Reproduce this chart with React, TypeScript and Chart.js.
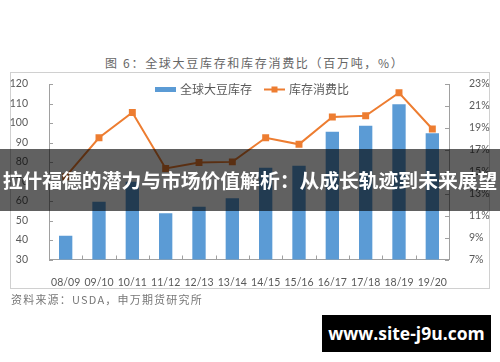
import React, { useEffect, useRef } from "react";
import { Chart, registerables } from "chart.js";

Chart.register(...registerables);

const categories = ["08/09", "09/10", "10/11", "11/12", "12/13", "13/14", "14/15", "15/16", "16/17", "17/18", "18/19", "19/20"];
const stocks = [42.2, 59.6, 69.9, 53.7, 57.1, 61.4, 77.1, 78.1, 95.5, 98.6, 109.6, 94.7];
const ratio = [14.55, 18.1, 20.4, 15.3, 15.85, 15.9, 18.1, 17.5, 20.0, 20.1, 22.2, 18.9];
const barLabel = "全球大豆库存";
const lineLabel = "库存消费比";
const titleText = "图 6：全球大豆库存和库存消费比（百万吨，%）";
const sourceText = "资料来源：USDA，申万期货研究所";
const bannerText = "拉什福德的潜力与市场价值解析：从成长轨迹到未来展望";
const watermarkText = "www.site-j9u.com";

const BLUE = "#5b9bd5";
const ORANGE = "#ed7d31";
const AXIS = "#a0a0a0";
const TEXT = "#595959";

const decorPlugin = {
  id: "decor",
  afterDatasetsDraw(chart: any) {
    const ctx = chart.ctx;
    const { x, y, y1 } = chart.scales;
    ctx.save();
    ctx.strokeStyle = AXIS;
    ctx.lineWidth = 1;
    ctx.beginPath();
    y.ticks.forEach((t: any) => {
      const py = Math.round(y.getPixelForValue(t.value)) + 0.5;
      ctx.moveTo(x.left, py);
      ctx.lineTo(x.left + 4, py);
    });
    y1.ticks.forEach((t: any) => {
      const py = Math.round(y1.getPixelForValue(t.value)) + 0.5;
      ctx.moveTo(x.right, py);
      ctx.lineTo(x.right - 4, py);
    });
    for (let i = 0; i <= categories.length; i++) {
      const px = Math.round(x.getPixelForValue(i - 0.5)) + 0.5;
      ctx.moveTo(px, y.bottom);
      ctx.lineTo(px, y.bottom - 4);
    }
    ctx.stroke();

    const ly = 89.5;
    ctx.font = '12px "Noto Sans CJK SC"';
    ctx.textBaseline = "middle";
    ctx.textAlign = "left";
    ctx.fillStyle = BLUE;
    ctx.fillRect(155, ly - 2.5, 21, 5);
    ctx.fillStyle = TEXT;
    ctx.fillText(chart.data.datasets[0].label, 180, ly);
    ctx.strokeStyle = ORANGE;
    ctx.lineWidth = 2;
    ctx.beginPath();
    ctx.moveTo(264, ly);
    ctx.lineTo(285, ly);
    ctx.stroke();
    ctx.fillStyle = ORANGE;
    ctx.fillRect(274.5 - 3, ly - 3, 6, 6);
    ctx.fillStyle = TEXT;
    ctx.fillText(chart.data.datasets[1].label, 289, ly);
    ctx.restore();
  },
};

export default function App() {
  const ref = useRef<HTMLCanvasElement | null>(null);
  useEffect(() => {
    if (!ref.current) return;
    const tickFont = { family: "Lato", size: 10.5 };
    const chart = new Chart(ref.current, {
      type: "bar",
      data: {
        labels: categories,
        datasets: [
          {
            type: "bar",
            label: barLabel,
            data: stocks,
            backgroundColor: BLUE,
            yAxisID: "y",
            barPercentage: 0.4,
            categoryPercentage: 1,
            order: 1,
          } as any,
          {
            type: "line",
            label: lineLabel,
            data: ratio,
            borderColor: ORANGE,
            backgroundColor: ORANGE,
            borderWidth: 2,
            pointStyle: "rect",
            pointRadius: 3.5,
            pointBackgroundColor: ORANGE,
            pointBorderColor: ORANGE,
            yAxisID: "y1",
            tension: 0,
            order: 0,
          } as any,
        ],
      },
      options: {
        responsive: false,
        animation: false,
        devicePixelRatio: 1,
        layout: { padding: { top: 84, left: 0, right: 0, bottom: 0 } },
        plugins: { legend: { display: false }, tooltip: { enabled: false }, title: { display: false } },
        scales: {
          x: {
            offset: true,
            grid: { display: false },
            border: { display: true, color: AXIS },
            ticks: { color: TEXT, font: tickFont, padding: 9, maxRotation: 0, autoSkip: false },
            afterFit: (s: any) => { s.height = 102.5; },
          },
          y: {
            position: "left",
            min: 30,
            max: 120,
            grid: { display: false },
            border: { display: true, color: AXIS },
            ticks: { stepSize: 10, color: TEXT, font: tickFont, padding: 13 },
            afterFit: (s: any) => { s.width = 49; },
          },
          y1: {
            position: "right",
            min: 7,
            max: 23,
            grid: { display: false },
            border: { display: true, color: AXIS },
            ticks: { stepSize: 2, color: TEXT, font: tickFont, padding: 12, callback: (v: any) => v + "%" },
            afterFit: (s: any) => { s.width = 51; },
          },
        },
      } as any,
      plugins: [decorPlugin],
    });
    return () => chart.destroy();
  }, []);

  return (
    <div style={{ position: "absolute", left: 0, top: 0, width: 500, height: 362, background: "#fff", overflow: "hidden" }}>
      <div
        style={{
          position: "absolute", left: 105, top: 54, height: 18, lineHeight: "18px",
          font: '12px "Noto Sans CJK SC"', letterSpacing: "1.7px", color: "#666", whiteSpace: "nowrap",
        }}
      >
        {titleText}
      </div>
      <div
        style={{
          position: "absolute", left: 10, top: 72, width: 480, height: 217, boxSizing: "border-box",
          border: "1px solid #d0d0d0",
        }}
      />
      <canvas ref={ref} width={500} height={362} style={{ position: "absolute", left: 0, top: 0, width: 500, height: 362 }} />
      <div
        style={{
          position: "absolute", left: 11, top: 291, height: 17, lineHeight: "17px",
          font: '11px "Noto Sans CJK SC"', letterSpacing: "1.2px", color: "#777", whiteSpace: "nowrap",
        }}
      >
        {sourceText}
      </div>
      <div
        style={{
          position: "absolute", left: 0, top: 149, width: 500, height: 62, background: "rgba(0,0,0,0.62)",
          color: "#fff", font: 'bold 19.8px "Noto Sans CJK SC"', lineHeight: "62px", textAlign: "center",
          whiteSpace: "nowrap", overflow: "hidden",
        }}
      >
        {bannerText}
      </div>
      <div
        style={{
          position: "absolute", left: 322, top: 315, width: 169, height: 37, background: "#000",
          color: "#fff", font: 'bold 17.5px "Open Sans"', lineHeight: "37px", textAlign: "center",
          whiteSpace: "nowrap",
        }}
      >
        {watermarkText}
      </div>
    </div>
  );
}
